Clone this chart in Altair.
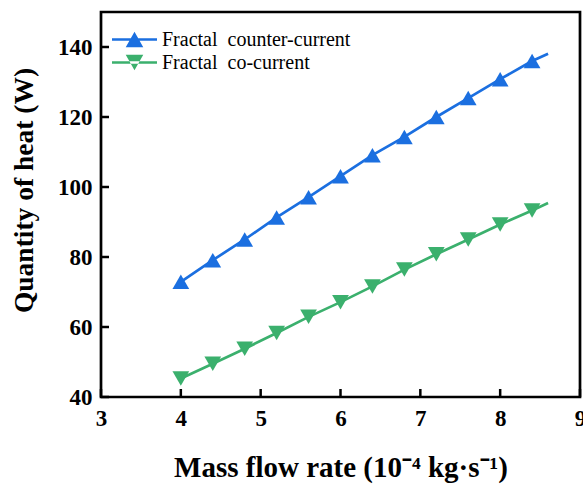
import altair as alt
import pandas as pd

# ---- data ----
x_vals = [4.0, 4.4, 4.8, 5.2, 5.6, 6.0, 6.4, 6.8, 7.2, 7.6, 8.0, 8.4]
counter_vals = [72.9, 79.1, 85.0, 91.3, 97.1, 103.1, 109.1, 114.3, 120.0, 125.4, 130.8, 136.0]
co_vals = [45.3, 49.5, 53.8, 58.3, 62.9, 67.1, 71.6, 76.4, 80.8, 85.0, 89.3, 93.3]
line_end_x = 8.6
counter_end = 138.1
co_end = 95.4

counter_name = "Fractal\u00a0 counter-current"
co_name = "Fractal\u00a0 co-current"
blue = "#1b6fe0"
green = "#3bb06d"

x_ticks = [3, 4, 5, 6, 7, 8, 9]
y_ticks = [40, 60, 80, 100, 120, 140]

FONT = "Liberation Serif"

# legend symbols: line segment + triangle (unit box -1..1)
up_path = "M-1,-0.06L1,-0.06L1,0.06L-1,0.06Z M0,-0.34L0.39,0.34L-0.39,0.34Z"
down_path = "M-1,-0.06L1,-0.06L1,0.06L-1,0.06Z M0,0.34L0.39,-0.34L-0.39,-0.34Z"

x_scale = alt.Scale(domain=[3, 9], nice=False, zero=False)
y_scale = alt.Scale(domain=[40, 150], nice=False, zero=False)

x_axis = alt.Axis(
    values=x_ticks, title="Mass flow rate (10\u207b\u2074 kg\u00b7s\u207b\u00b9)",
    ticks=False, domain=False, labelPadding=10,
    labelFont=FONT, titleFont=FONT, labelFontWeight="bold", titleFontWeight="bold",
    labelFontSize=23, titleFontSize=29, labelColor="black", titleColor="black",
    titleY=79, titleBaseline="alphabetic", labelFlush=False,
)
y_axis = alt.Axis(
    values=y_ticks, title="Quantity of heat (W)",
    ticks=False, domain=False, labelPadding=9,
    labelFont=FONT, titleFont=FONT, labelFontWeight="bold", titleFontWeight="bold",
    labelFontSize=23, titleFontSize=27.5, labelColor="black", titleColor="black",
    titleX=-69, titleY=178, titleBaseline="alphabetic", labelFlush=False,
)
x_enc = alt.X("x:Q", scale=x_scale, axis=x_axis)
y_enc = alt.Y("y:Q", scale=y_scale, axis=y_axis)


def series(name, ys, end_y, color, shape, path, legend_y):
    df_line = pd.DataFrame({"x": x_vals + [line_end_x], "y": ys + [end_y], "series": name})
    df_pt = pd.DataFrame({"x": x_vals, "y": ys, "series": name})
    legend = alt.Legend(
        orient="none", legendX=11, legendY=legend_y, title=None,
        symbolType=path, symbolSize=2025, symbolFillColor=color,
        symbolStrokeWidth=0, symbolOpacity=1,
        labelFont=FONT, labelFontSize=20, labelColor="black",
        labelFontWeight="normal", labelOffset=5, labelLimit=0, padding=0,
    )
    col = alt.Color("series:N", scale=alt.Scale(domain=[name], range=[color]), legend=legend)
    line = alt.Chart(df_line).mark_line(strokeWidth=2.7).encode(x=x_enc, y=y_enc, color=col)
    pts = alt.Chart(df_pt).mark_point(filled=True, shape=shape, size=280, opacity=1).encode(
        x=x_enc, y=y_enc, color=col
    )
    return alt.layer(line, pts)


counter = series(counter_name, counter_vals, counter_end, blue, "triangle-up", up_path, 5)
co = series(co_name, co_vals, co_end, green, "triangle-down", down_path, 28)

# inward ticks drawn from the tick value lists
x_tick_df = pd.DataFrame({"x": x_ticks})
y_tick_df = pd.DataFrame({"y": y_ticks})
x_tick_layer = alt.Chart(x_tick_df).mark_rule(color="black", strokeWidth=2.5).encode(
    x=x_enc, y=alt.value(385), y2=alt.value(377)
)
y_tick_layer = alt.Chart(y_tick_df).mark_rule(color="black", strokeWidth=2.5).encode(
    y=y_enc, x=alt.value(0), x2=alt.value(8)
)

chart = (
    alt.layer(counter, co, x_tick_layer, y_tick_layer)
    .resolve_scale(color="independent")
    .resolve_legend(color="independent")
    .properties(
        width=479, height=385,
        autosize=alt.AutoSizeParams(type="none"),
        padding={"left": 101, "top": 12, "right": 3, "bottom": 87},
        background="white",
    )
    .configure_view(stroke="black", strokeWidth=2.7)
    .configure_axis(grid=False)
)

chart.save("out.html", embed_options={"renderer": "svg", "actions": False})
